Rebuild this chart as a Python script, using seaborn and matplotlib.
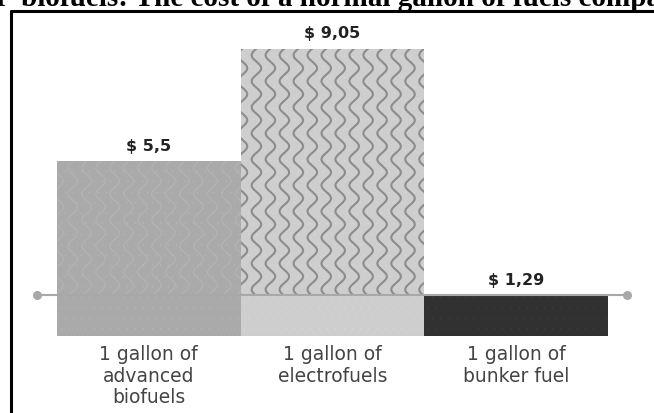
import numpy as np
import matplotlib
matplotlib.use("Agg")
import matplotlib.pyplot as plt
from matplotlib.patches import Rectangle
from matplotlib.font_manager import FontProperties
import seaborn as sns

# Price of one gallon of each fuel (USD)
categories = ["1 gallon of\nadvanced\nbiofuels", "1 gallon of\nelectrofuels", "1 gallon of\nbunker fuel"]
prices = [5.5, 9.05, 1.29]
value_labels = ["$ 5,5", "$ 9,05", "$ 1,29"]
bar_colors = ["#aaaaaa", "#cecece", "#313131"]
reference_price = prices[2]  # bunker fuel serves as the comparison line

W, H = 654, 414
sns.set_theme(style="white")
plt.rcParams["font.family"] = ["DejaVu Sans"]

fig = plt.figure(figsize=(W / 100, H / 100), dpi=100)
fig.patch.set_facecolor("white")

base_px = 337          # pixel row of the zero line
px_per_unit = 31.75    # vertical scale
ax = fig.add_axes([0, (H - base_px) / H, 1, base_px / H])

sns.barplot(x=categories, y=prices, hue=categories, palette=bar_colors,
            width=1.0, saturation=1, legend=False, ax=ax, linewidth=0)

ax.set_xlim(-0.5 - 57 / 184, 2.5 + (W - 608) / 184)
ax.set_ylim(0, base_px / px_per_unit)

bars = list(ax.patches)

# dotted texture on every bar
dot_colors = ["#b9b9b9", "#dadada", "#3f3f3f"]
for bar, dc in zip(bars, dot_colors):
    x0, w, h = bar.get_x(), bar.get_width(), bar.get_height()
    xs = np.arange(x0 + 0.02, x0 + w, 0.045)
    ys = np.arange(0.25, h, 0.33)
    gx, gy = np.meshgrid(xs, ys)
    gx = gx + (np.arange(len(ys))[:, None] % 2) * 0.022
    ax.scatter(gx.ravel(), gy.ravel(), s=1.0, color=dc, linewidths=0,
               zorder=3, clip_path=bar)

# wavy texture on the part of each bar above the reference price
wave_styles = [("#b4b4b4", 0.8), ("#8c8c8c", 1.5)]
for bar, (wc, lw) in zip(bars[:2], wave_styles):
    x0, w, h = bar.get_x(), bar.get_width(), bar.get_height()
    yy = np.linspace(reference_price, h, 800)
    clip = Rectangle((x0, reference_price), w, h - reference_price,
                     transform=ax.transData)
    for xc in np.arange(x0 + 0.01, x0 + w + 0.08, 0.076):
        xx = xc + 0.026 * np.sin(2 * np.pi * (yy - h) / 0.82)
        ln, = ax.plot(xx, yy, color=wc, lw=lw, zorder=4, solid_capstyle="round")
        ln.set_clip_path(clip)

# reference line at the bunker fuel price
x_left, x_right = -0.5 - 20 / 184, 2.5 + 19 / 184
ax.plot([x_left, x_right], [reference_price, reference_price], color="#a8a8a8",
        lw=1.5, zorder=5, marker="o", markersize=6.5, markerfacecolor="#a8a8a8",
        markeredgewidth=0)

# value labels
for i, (v, lab) in enumerate(zip(prices, value_labels)):
    ax.annotate(lab, (i, v), xytext=(0, 6), textcoords="offset points",
                ha="center", va="bottom", fontsize=11.5, fontweight="bold",
                color="#222222")

ax.set_yticks([])
ax.tick_params(axis="x", length=0, pad=6, labelsize=13.5, labelcolor="#444444")
for t in ax.get_xticklabels():
    t.set_linespacing(1.15)
ax.set_xlabel("")
ax.set_ylabel("")
for s in ax.spines.values():
    s.set_visible(False)

# outer frame
fig.add_artist(plt.Line2D([10.5 / W, 10.5 / W], [0, 1 - 11.5 / H],
                          transform=fig.transFigure, color="black", lw=2.2))
fig.add_artist(plt.Line2D([10.5 / W, 1.05], [1 - 11.5 / H, 1 - 11.5 / H],
                          transform=fig.transFigure, color="black", lw=2.2))

# heading, running past the top edge
title_font = FontProperties(family="Liberation Serif", weight="bold", size=21)
fig.text(9 / W, 1 - 6 / H, "Shipping costs for", ha="right", va="baseline",
         fontproperties=title_font, color="black")
fig.text(21 / W, 1 - 6 / H,
         "biofuels: The cost of a normal gallon of fuels compared to bunker fuel",
         ha="left", va="baseline", fontproperties=title_font, color="black")

fig.savefig("out.png", dpi=100)
